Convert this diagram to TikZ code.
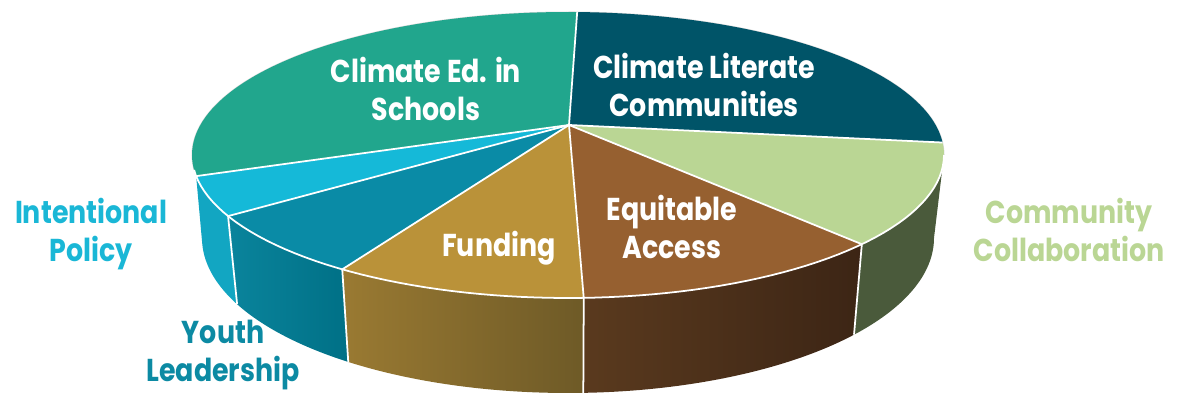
\documentclass[tikz,border=0pt]{standalone}
\usepackage{fontspec}
\setmainfont{Poppins}
\newfontfamily\labfont[FakeStretch=0.85]{Poppins}
\definecolor{cedtop}{HTML}{21A68D}
\definecolor{littop}{HTML}{005468}
\definecolor{comtop}{HTML}{BAD694}
\definecolor{comside}{HTML}{4A5A3B}
\definecolor{equtop}{HTML}{966030}
\definecolor{equsideL}{HTML}{5A3A1E}
\definecolor{equsideR}{HTML}{3C2515}
\definecolor{funtop}{HTML}{BA9239}
\definecolor{funsideL}{HTML}{9A7A32}
\definecolor{funsideR}{HTML}{6E5A27}
\definecolor{youtop}{HTML}{0A8BA6}
\definecolor{yousideL}{HTML}{0A849C}
\definecolor{yousideR}{HTML}{007086}
\definecolor{inttop}{HTML}{15B9D8}
\definecolor{intside}{HTML}{12A6C2}
\definecolor{intlab}{HTML}{1AB7D6}
\definecolor{youlab}{HTML}{0C8AA3}
\newcommand{\topslice}[3]{\fill[#3] (569,125) -- plot[domain=#1:#2,samples=60,variable=\t] ({568+376*cos(\t)},{155-143*sin(\t)}) -- cycle;}
\newcommand{\sideface}[4]{\path[#4] plot[domain=#1:#2,samples=40,variable=\t] ({568+376*cos(\t)},{155-143*sin(\t)}) -- plot[domain=#2:#3,samples=40,variable=\t] ({568+366*cos(\t)},{238-155*sin(\t)}) -- cycle;}
\newcommand{\sep}[1]{\draw[sepline] (569,125) -- ({568+376*cos(#1)},{155-143*sin(#1)});}
\newcommand{\vedge}[1]{\draw[sepline] ({568+376*cos(#1)},{155-143*sin(#1)}) -- ({568+366*cos(#1)},{238-155*sin(#1)});}
\tikzset{
  sepline/.style={draw=white,line width=1pt},
  inlabel/.style={text=white,align=center,font=\labfont\bfseries\fontsize{18}{21.5}\selectfont},
  outlabel/.style={align=center,font=\labfont\bfseries\fontsize{18}{21.5}\selectfont}
}
\begin{document}
\begin{tikzpicture}[x=0.02cm,y=-0.02cm]
\useasboundingbox (0,0) rectangle (1177,394);
% faint outline of the back rim
\draw[black!15,line width=0.6pt] plot[domain=0:190,samples=80,variable=\t] ({568+376*cos(\t)},{155-143*sin(\t)});
% side faces
\sideface{188.5}{205.3}{182}{fill=intside}
\sideface{205.3}{233.1}{205.3}{left color=yousideL,right color=yousideR}
\sideface{233.1}{272.4}{233.1}{left color=funsideL,right color=funsideR}
\sideface{272.4}{321.4}{272.4}{left color=equsideL,right color=equsideR}
\sideface{321.4}{360}{321.4}{fill=comside}
% vertical edges
\vedge{205.3}\vedge{233.1}\vedge{272.4}\vedge{321.4}
% top faces
\topslice{88.6}{188.5}{cedtop}
\topslice{188.5}{205.3}{inttop}
\topslice{205.3}{233.1}{youtop}
\topslice{233.1}{272.4}{funtop}
\topslice{272.4}{321.4}{equtop}
\topslice{321.4}{365}{comtop}
\topslice{5}{88.6}{littop}
% separators
\sep{88.6}\sep{5}\sep{321.4}\sep{272.4}\sep{233.1}\sep{205.3}\sep{188.5}
\draw[sepline] plot[domain=186:360,samples=80,variable=\t] ({568+376*cos(\t)},{155-143*sin(\t)});
% labels
\node[inlabel] (ced) at (426,89) {Climate Ed. in\\Schools};
\node[inlabel] (lit) at (704,85) {Climate Literate\\Communities};
\node[inlabel] (equ) at (672,227) {Equitable\\Access};
\node[inlabel] (fun) at (499,248) {Funding};
\node[outlabel,text=intlab] (int) at (91,234) {Intentional\\Policy};
\node[outlabel,text=youlab] (you) at (223,355) {Youth\\Leadership};
\node[outlabel,text=comtop] (com) at (1069,230) {Community\\Collaboration};
\end{tikzpicture}
\end{document}
